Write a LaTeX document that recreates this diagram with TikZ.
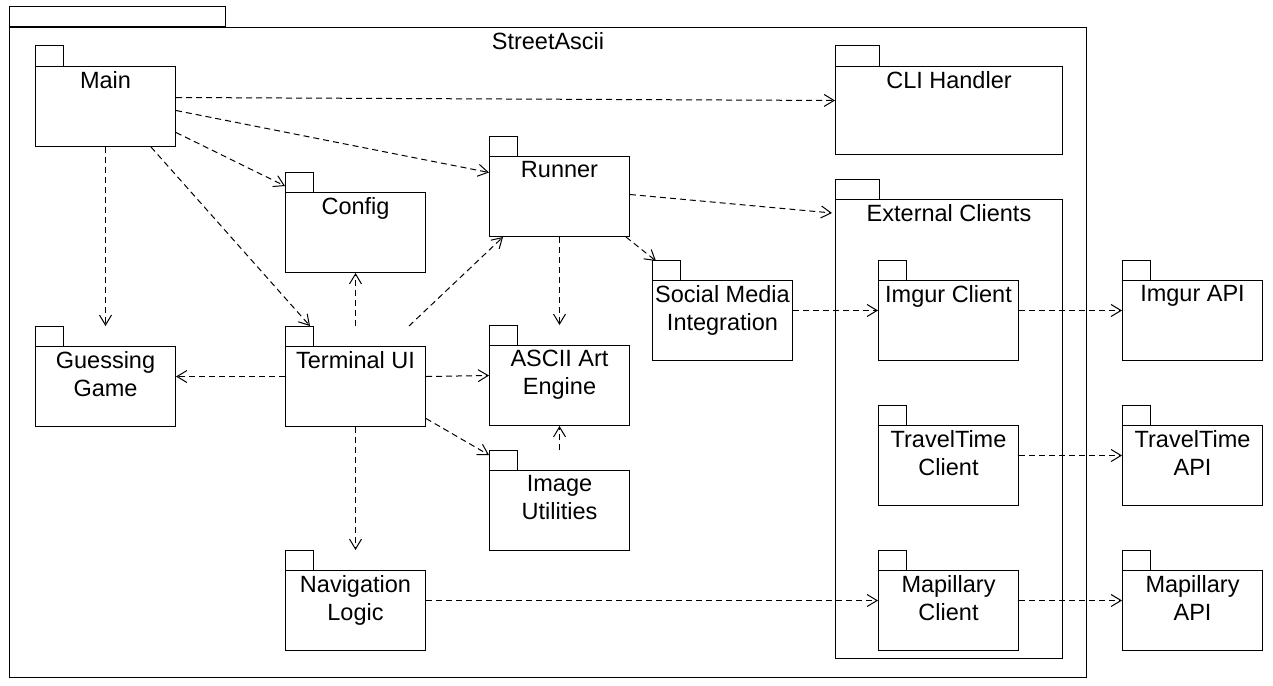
\documentclass[tikz,border=0pt]{standalone}
\usepackage{fontspec}
\setmainfont{Liberation Sans}
\usetikzlibrary{arrows.meta}
\begin{document}
\begin{tikzpicture}[x=1pt, y=1pt, line width=1pt,
    pkg/.style={draw, anchor=north west, inner sep=0pt, minimum width=140pt, minimum height=80pt},
    pkgname/.style={anchor=north, inner sep=0pt, align=center, yshift=-4.5pt, font=\fontsize{23.5}{28.5}\selectfont},
    dep/.style={dash pattern=on 6pt off 4pt, -{Straight Barb[length=10pt, width=12pt]}},
  ]
  \useasboundingbox (0,0) rectangle (1273,-685);

  % outer package
  \draw (9,-27) rectangle (225,-7);
  \node[pkg, minimum width=1077pt, minimum height=650pt] (outer) at (9,-27) {};
  \node[pkgname] at (outer.north) {StreetAscii};

  % left column
  \draw (35,-66) rectangle (63,-46);
  \node[pkg] (main) at (35,-66) {};
  \node[pkgname] at (main.north) {Main};

  \draw (35,-346) rectangle (63,-326);
  \node[pkg] (guess) at (35,-346) {};
  \node[pkgname] at (guess.north) {Guessing\\Game};

  % middle column
  \draw (285,-192) rectangle (313,-172);
  \node[pkg] (config) at (285,-192) {};
  \node[pkgname] at (config.north) {Config};

  \draw (285,-346) rectangle (313,-326);
  \node[pkg] (tui) at (285,-346) {};
  \node[pkgname] at (tui.north) {Terminal UI};

  \draw (285,-570) rectangle (313,-550);
  \node[pkg] (nav) at (285,-570) {};
  \node[pkgname] at (nav.north) {Navigation\\Logic};

  \draw (489,-156) rectangle (517,-136);
  \node[pkg] (runner) at (489,-156) {};
  \node[pkgname] at (runner.north) {Runner};

  \draw (489,-345) rectangle (517,-325);
  \node[pkg] (ascii) at (489,-345) {};
  \node[pkgname] at (ascii.north) {ASCII Art\\Engine};

  \draw (489,-470) rectangle (517,-450);
  \node[pkg] (imgutil) at (489,-470) {};
  \node[pkgname] at (imgutil.north) {Image\\Utilities};

  \draw (652,-280) rectangle (680,-260);
  \node[pkg] (social) at (652,-280) {};
  \node[pkgname] at (social.north) {Social Media\\Integration};

  % right part
  \draw (835,-66) rectangle (879,-46);
  \node[pkg, minimum width=227pt, minimum height=88pt] (cli) at (835,-66) {};
  \node[pkgname] at (cli.north) {CLI Handler};

  \draw (835,-199) rectangle (879,-179);
  \node[pkg, minimum width=227pt, minimum height=459pt] (ext) at (835,-199) {};
  \node[pkgname] at (ext.north) {External Clients};

  \draw (878,-280) rectangle (906,-260);
  \node[pkg] (imgurc) at (878,-280) {};
  \node[pkgname] at (imgurc.north) {Imgur Client};

  \draw (878,-425) rectangle (906,-405);
  \node[pkg] (ttc) at (878,-425) {};
  \node[pkgname] at (ttc.north) {TravelTime\\Client};

  \draw (878,-570) rectangle (906,-550);
  \node[pkg] (mapc) at (878,-570) {};
  \node[pkgname] at (mapc.north) {Mapillary\\Client};

  \draw (1122,-280) rectangle (1150,-260);
  \node[pkg] (imgurapi) at (1122,-280) {};
  \node[pkgname] at (imgurapi.north) {Imgur API};

  \draw (1122,-425) rectangle (1150,-405);
  \node[pkg] (ttapi) at (1122,-425) {};
  \node[pkgname] at (ttapi.north) {TravelTime\\API};

  \draw (1122,-570) rectangle (1150,-550);
  \node[pkg] (mapapi) at (1122,-570) {};
  \node[pkgname] at (mapapi.north) {Mapillary\\API};

  % dependencies
  \draw[dep] ([yshift=9]main.east) -- ([yshift=10]cli.west);
  \draw[dep] ([yshift=-4]main.east) -- ([yshift=24]runner.west);
  \draw[dep] ([yshift=-26]main.east) -- ([yshift=6]config.north west);
  \draw[dep] ([xshift=-25]main.south east) -- ([xshift=25,yshift=20]tui.north west);
  \draw[dep] (main.south) -- ([yshift=20]guess.north);

  \draw[dep] ([yshift=2]runner.east) -- ([xshift=-3,yshift=-14]ext.north west);
  \draw[dep] ([xshift=-4]runner.south east) -- ([xshift=4,yshift=19]social.north west);
  \draw[dep] (runner.south) -- ([yshift=20]ascii.north);

  \draw[dep] ([yshift=20]tui.north) -- (config.south);
  \draw[dep] ([xshift=-17,yshift=20]tui.north east) -- ([xshift=14]runner.south west);
  \draw[dep] ([yshift=10]tui.west) -- ([yshift=10]guess.east);
  \draw[dep] ([yshift=10]tui.east) -- ([yshift=10]ascii.west);
  \draw[dep] ([yshift=-32]tui.east) -- ([yshift=15]imgutil.north west);
  \draw[dep] (tui.south) -- ([yshift=20]nav.north);
  \draw[dep] ([yshift=20]imgutil.north) -- (ascii.south);

  \draw[dep] ([yshift=10]social.east) -- ([yshift=10]imgurc.west);
  \draw[dep] ([yshift=10]imgurc.east) -- ([yshift=10]imgurapi.west);
  \draw[dep] ([yshift=10]ttc.east) -- ([yshift=10]ttapi.west);
  \draw[dep] ([yshift=10]nav.east) -- ([yshift=10]mapc.west);
  \draw[dep] ([yshift=10]mapc.east) -- ([yshift=10]mapapi.west);
\end{tikzpicture}
\end{document}
